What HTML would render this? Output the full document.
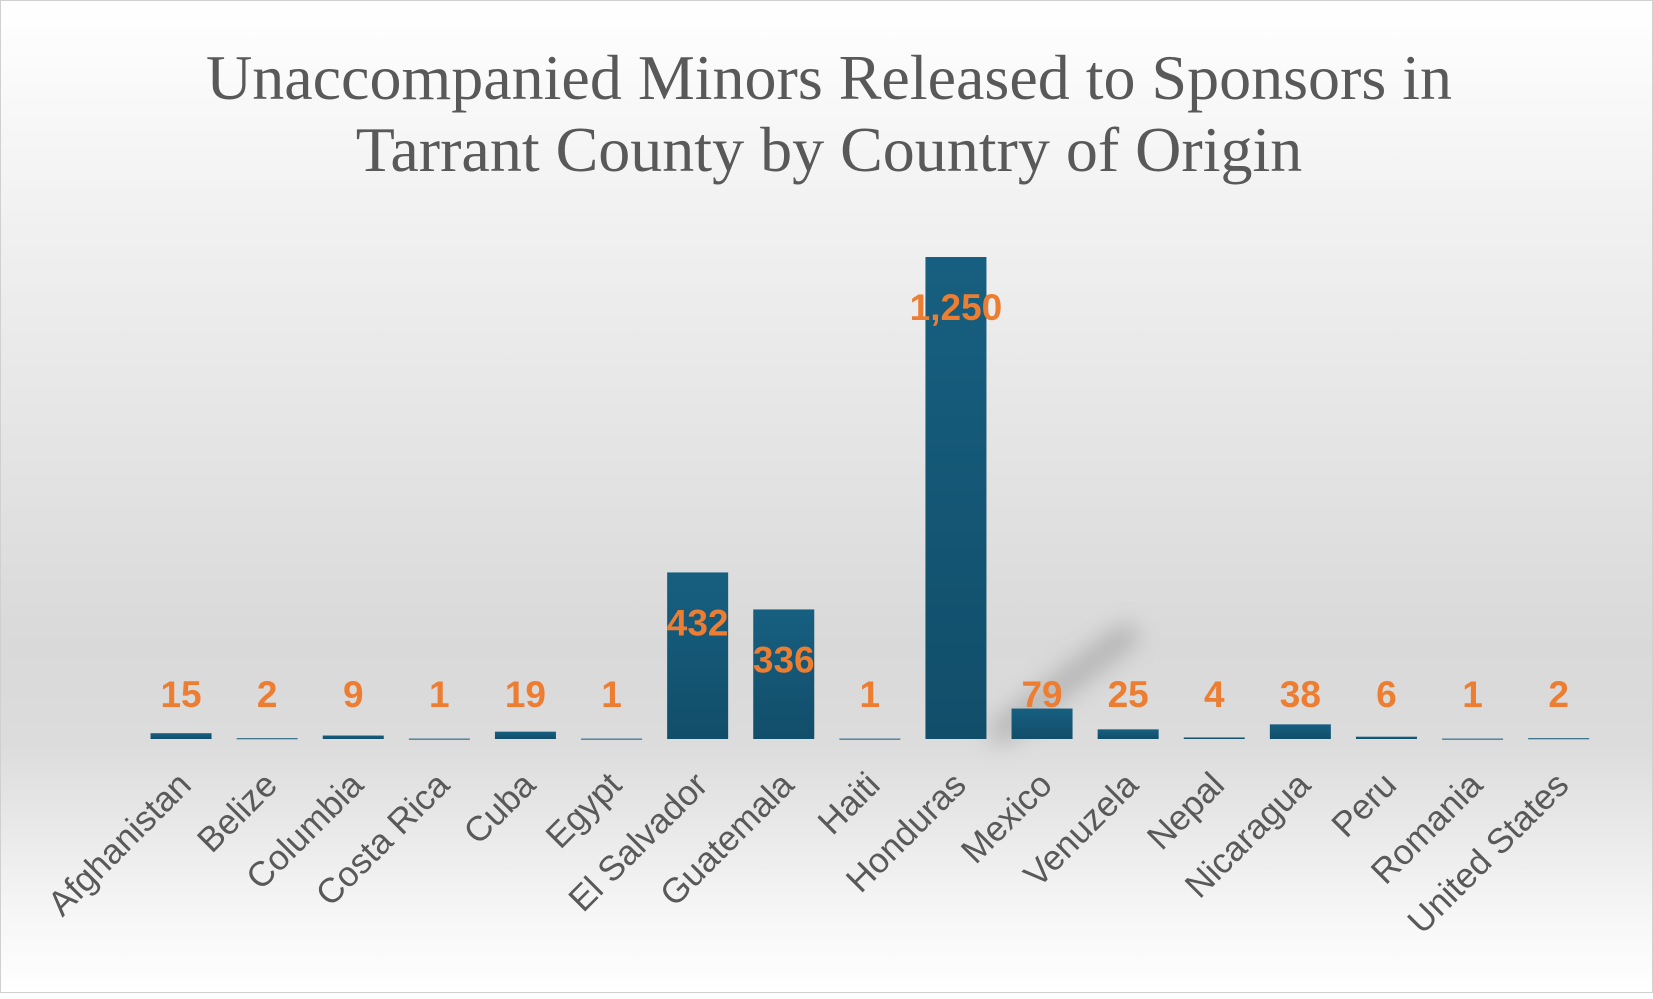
<!DOCTYPE html>
<html><head><meta charset="utf-8"><style>
html,body{margin:0;padding:0}
body{width:1653px;height:993px;overflow:hidden;font-family:"Liberation Sans",sans-serif}
#chart{position:absolute;left:0;top:0;width:1651px;height:991px;border:1px solid #d0d0d0;
background:linear-gradient(to bottom,#ffffff 0%,#f2f2f2 20%,#d9d9d9 65%,#dcdcdc 75%,#f6f6f6 92%,#ffffff 100%)}
</style></head><body>
<div id="chart">
<svg id="svg" width="1653" height="993" xmlns="http://www.w3.org/2000/svg">
<defs>
<linearGradient id="barg" x1="0" y1="0" x2="0" y2="1"><stop offset="0" stop-color="#175f80"/><stop offset="1" stop-color="#114e6a"/></linearGradient>
<filter id="blur" x="-50%" y="-50%" width="200%" height="200%"><feGaussianBlur stdDeviation="12"/></filter>
</defs>
<text x="828" y="98" text-anchor="middle" font-family="Liberation Serif, serif" font-size="64" fill="#595959">Unaccompanied Minors Released to Sponsors in</text>
<text x="828" y="170" text-anchor="middle" font-family="Liberation Serif, serif" font-size="64" fill="#595959">Tarrant County by Country of Origin</text>
<path d="M1000 730 L1125 635" stroke="#777" stroke-width="24" stroke-linecap="round" opacity="0.4" filter="url(#blur)"/>
<g id="bars"></g>
</svg>
</div>
<script>
const categories=["Afghanistan","Belize","Columbia","Costa Rica","Cuba","Egypt","El Salvador","Guatemala","Haiti","Honduras","Mexico","Venuzela","Nepal","Nicaragua","Peru","Romania","United States"];
const values=[15,2,9,1,19,1,432,336,1,1250,79,25,4,38,6,1,2];
const valueLabels=["15","2","9","1","19","1","432","336","1","1,250","79","25","4","38","6","1","2"];
const NS="http://www.w3.org/2000/svg";
const plotLeft=137,step=86.1,baseY=738,barW=61,yScale=482/1250;
function xCenter(i){return plotLeft+step*(i+0.5);}
function yPos(v){return baseY-v*yScale;}
const g=document.getElementById('bars');
categories.forEach((c,i)=>{
  const cx=xCenter(i),top=yPos(values[i]);
  const r=document.createElementNS(NS,'rect');
  r.setAttribute('x',cx-barW/2);r.setAttribute('y',top);
  r.setAttribute('width',barW);r.setAttribute('height',Math.max(baseY-top,1));
  r.setAttribute('fill','url(#barg)');
  
  
  g.appendChild(r);
  const t=document.createElementNS(NS,'text');
  const ly=(baseY-top>120)?top+63:baseY-32;
  t.setAttribute('x',cx);t.setAttribute('y',ly);
  t.setAttribute('text-anchor','middle');t.setAttribute('font-size','37');t.setAttribute('font-weight','bold');
  t.setAttribute('fill','#ED7D31');
  
  
  t.textContent=valueLabels[i];
  g.appendChild(t);
  const a=document.createElementNS(NS,'text');
  a.setAttribute('transform','translate('+(cx+12)+','+(baseY+48)+') rotate(-45)');
  a.setAttribute('text-anchor','end');a.setAttribute('font-size','35');a.setAttribute('fill','#595959');
  
  
  a.textContent=c;
  g.appendChild(a);
});
</script>
</body></html>
